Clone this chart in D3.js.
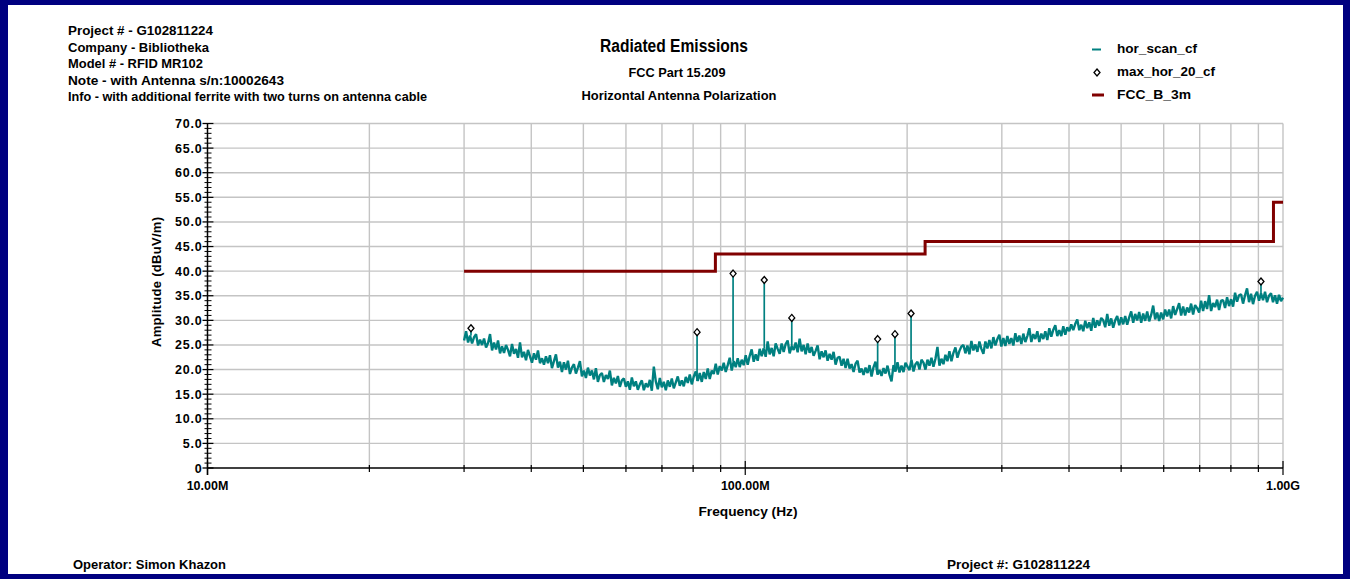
<!DOCTYPE html>
<html>
<head>
<meta charset="utf-8">
<script src="https://cdn.jsdelivr.net/npm/d3@7"></script>
<style>
  body { margin: 0; background: #fff; }
  svg { display: block; }
  text { font-family: "Liberation Sans", Arial, sans-serif; font-weight: bold; fill: #000; }
</style>
</head>
<body>
<svg id="chart" width="1353" height="579"></svg>
<script>
// ---- Report header ----
const headerLines = [
  "Project # - G102811224",
  "Company - Bibliotheka",
  "Model # - RFID MR102",
  "Note - with  Antenna s/n:10002643",
  "Info - with additional ferrite with two turns on antenna cable"
];
const headerWidths = [145, 141, 135, 216, 359];
const titleLines = ["Radiated Emissions", "FCC Part 15.209", "Horizontal Antenna Polarization"];
const footerLeft = "Operator: Simon Khazon";
const footerRight = "Project #: G102811224";

// ---- Legend ----
const legendNames = ["hor_scan_cf", "max_hor_20_cf", "FCC_B_3m"];

// ---- Axes ----
const xDomainMHz = [10, 1000];
const xLabelValuesMHz = [10, 100, 1000];
const xLabels = ["10.00M", "100.00M", "1.00G"];
const yDomain = [0, 70];
const yTickValues = [0, 5, 10, 15, 20, 25, 30, 35, 40, 45, 50, 55, 60, 65, 70];
const yTickLabels = ["0", "5.0", "10.0", "15.0", "20.0", "25.0", "30.0", "35.0", "40.0", "45.0", "50.0", "55.0", "60.0", "65.0", "70.0"];

// ---- Scan trace: sweep 30 MHz .. 1 GHz, log-spaced points (dBuV/m) ----
const scanStartMHz = 30;
const scanStopMHz = 1000;
const scanLevels = [
  25.9, 27.8, 25.5, 26.9, 25.3, 26.6, 27.2, 24.9, 26.1, 25.0,
  26.3, 24.5, 25.4, 27.2, 23.9, 25.5, 24.1, 25.9, 23.3, 24.7,
  23.4, 25.0, 24.0, 22.7, 25.2, 23.2, 24.2, 22.4, 25.5, 22.5,
  23.6, 21.9, 24.0, 22.7, 21.4, 23.3, 22.0, 23.9, 21.3, 22.3,
  21.0, 22.7, 21.3, 22.9, 20.3, 21.7, 23.1, 20.4, 21.6, 19.5,
  21.5, 20.0, 21.8, 19.1, 20.4, 21.1, 19.2, 20.4, 21.7, 18.6,
  19.8, 18.3, 20.4, 18.8, 19.8, 18.0, 20.3, 17.5, 18.9, 19.3,
  17.5, 18.9, 18.1, 19.8, 16.8, 18.3, 17.2, 18.7, 16.5, 17.8,
  18.2, 16.5, 17.6, 15.9, 18.4, 16.6, 17.6, 15.9, 17.0, 17.8,
  15.8, 17.2, 16.4, 17.9, 15.7, 20.6, 17.6, 16.0, 18.3, 16.4,
  17.5, 15.8, 17.8, 16.5, 18.2, 16.2, 17.4, 18.6, 16.7, 17.8,
  16.6, 18.5, 17.3, 19.0, 17.0, 18.6, 19.6, 17.7, 19.3, 17.5,
  19.5, 18.1, 20.2, 18.1, 19.8, 19.1, 21.2, 19.0, 20.7, 19.8,
  21.4, 19.5, 20.9, 22.4, 19.8, 21.7, 20.5, 22.3, 20.5, 22.0,
  20.9, 22.9, 21.0, 22.8, 24.1, 21.6, 23.1, 21.8, 24.2, 22.7,
  24.3, 22.6, 25.7, 23.1, 24.4, 22.7, 25.3, 24.2, 23.2, 25.3,
  23.6, 25.2, 25.9, 23.3, 24.7, 24.0, 25.5, 23.5, 26.3, 23.7,
  25.0, 23.1, 25.3, 23.4, 24.6, 22.8, 23.8, 24.9, 22.1, 23.7,
  22.5, 23.9, 21.8, 23.2, 22.0, 23.6, 21.0, 22.4, 22.6, 20.8,
  22.2, 20.3, 22.2, 20.2, 21.1, 19.5, 21.2, 21.8, 19.4, 20.2,
  18.9, 20.4, 19.3, 20.9, 18.6, 20.5, 21.6, 19.0, 19.9, 18.7,
  20.3, 19.2, 20.8, 18.9, 17.6, 20.9, 19.6, 21.5, 19.4, 20.8,
  19.5, 21.4, 20.6, 19.9, 22.0, 19.6, 21.1, 21.6, 20.0, 22.0,
  21.4, 20.0, 22.0, 20.8, 22.4, 20.6, 22.2, 24.6, 20.8, 22.2,
  21.1, 23.0, 21.7, 23.7, 21.7, 23.4, 24.5, 22.4, 23.8, 24.7,
  25.0, 23.3, 24.9, 23.1, 25.8, 23.9, 25.1, 23.6, 25.7, 24.2,
  23.2, 25.7, 24.3, 26.0, 24.3, 26.6, 24.9, 26.2, 27.1, 24.7,
  26.4, 24.8, 26.8, 25.2, 26.4, 24.9, 27.4, 25.6, 26.9, 25.2,
  27.3, 25.6, 26.8, 28.4, 25.6, 27.2, 26.2, 27.8, 25.6, 27.3,
  26.2, 27.8, 26.0, 28.4, 26.7, 28.1, 29.0, 26.8, 28.0, 26.8,
  28.8, 27.1, 28.6, 27.8, 29.2, 28.0, 29.3, 30.2, 28.0, 29.1,
  27.8, 29.9, 28.4, 29.6, 27.9, 30.5, 28.5, 30.0, 28.9, 30.5,
  30.0, 28.6, 31.3, 28.9, 30.4, 28.5, 30.0, 30.9, 29.0, 30.6,
  29.2, 30.9, 29.1, 30.6, 31.8, 29.5, 31.3, 30.0, 31.7, 29.5,
  31.4, 29.9, 31.8, 29.8, 31.1, 33.0, 30.2, 31.6, 29.9, 31.6,
  30.2, 32.2, 30.8, 32.2, 30.4, 32.9, 31.1, 32.3, 33.5, 31.0,
  32.8, 31.0, 32.6, 31.6, 33.4, 31.2, 33.1, 32.5, 31.6, 34.0,
  31.9, 33.9, 32.3, 35.1, 31.9, 33.5, 32.7, 34.2, 32.1, 34.0,
  34.1, 32.5, 34.7, 32.9, 34.3, 32.8, 35.6, 33.8, 35.1, 35.3,
  33.4, 35.1, 36.5, 33.7, 35.4, 33.3, 35.0, 35.8, 34.0, 35.5,
  34.1, 35.8, 33.7, 35.0, 35.5, 33.7, 35.1, 33.4, 35.2, 33.9,
  34.6
];

// ---- Maximised peaks (max_hor_20_cf) ----
const peakFreqsMHz = [30.9, 81.36, 94.92, 108.48, 122.04, 176.28, 189.84, 203.4, 910.0];
const peakLevels   = [28.4, 27.6, 39.5, 38.2, 30.5, 26.2, 27.2, 31.4, 37.9];

// ---- FCC Part 15 Class B limit at 3 m ----
const limitFreqsMHz = [30, 88, 216, 960, 1000];
const limitLevels   = [40.0, 43.5, 46.0, 54.0, 54.0];

// ---- Drawing ----
const svg = d3.select("#chart");
const teal = "#008080", maroon = "#800000", navy = "#000080", gridGray = "#c4c4c4";

// page frame
svg.append("rect").attr("x", 0).attr("y", 0).attr("width", 1350).attr("height", 579).attr("fill", navy);
svg.append("rect").attr("x", 8).attr("y", 5).attr("width", 1335).attr("height", 569).attr("fill", "#fff");

const plot = { left: 207.5, right: 1283, top: 123.5, bottom: 468 };
const x = d3.scaleLog().domain(xDomainMHz).range([plot.left, plot.right]);
const y = d3.scaleLinear().domain(yDomain).range([plot.bottom, plot.top]);

// grid
const decadeSteps = [];
[10, 100].forEach(d => { for (let m = 1; m <= 9; m++) decadeSteps.push(d * m); });
decadeSteps.push(1000);
const g = svg.append("g");
g.selectAll("line.vg").data(decadeSteps.filter(f => f > 10)).join("line")
  .attr("x1", d => x(d)).attr("x2", d => x(d))
  .attr("y1", plot.top).attr("y2", plot.bottom)
  .attr("stroke", gridGray).attr("stroke-width", 1.4);
g.selectAll("line.hg").data(yTickValues.filter(v => v > 0)).join("line")
  .attr("x1", plot.left + 6).attr("x2", plot.right)
  .attr("y1", d => y(d)).attr("y2", d => y(d))
  .attr("stroke", gridGray).attr("stroke-width", 1.4);

// axes lines
svg.append("line").attr("x1", plot.left).attr("x2", plot.left).attr("y1", plot.top).attr("y2", plot.bottom + 7)
  .attr("stroke", "#000").attr("stroke-width", 1.5);
svg.append("line").attr("x1", plot.left).attr("x2", plot.right).attr("y1", plot.bottom).attr("y2", plot.bottom)
  .attr("stroke", "#000").attr("stroke-width", 1.5);

// x ticks
svg.selectAll("line.xt").data(decadeSteps).join("line")
  .attr("x1", d => x(d)).attr("x2", d => x(d))
  .attr("y1", d => xLabelValuesMHz.includes(d) ? plot.bottom - 7 : plot.bottom - 3)
  .attr("y2", d => xLabelValuesMHz.includes(d) ? plot.bottom + 7 : plot.bottom + 4)
  .attr("stroke", "#000").attr("stroke-width", 1.2);

// y ticks: major every 5, minor every 1
const yMinor = [];
for (let v = 0; v <= 70; v++) if (v % 5 !== 0) yMinor.push(v);
svg.selectAll("line.ymin").data(yMinor).join("line")
  .attr("x1", plot.left - 3).attr("x2", plot.left + 4)
  .attr("y1", d => y(d)).attr("y2", d => y(d))
  .attr("stroke", "#000").attr("stroke-width", 1);
svg.selectAll("line.ymaj").data(yTickValues).join("line")
  .attr("x1", plot.left - 5).attr("x2", plot.left + 6)
  .attr("y1", d => y(d)).attr("y2", d => y(d))
  .attr("stroke", "#000").attr("stroke-width", 1.3);

svg.selectAll("text.yl").data(yTickValues).join("text")
  .attr("x", plot.left - 5).attr("y", d => y(d) + 4.5)
  .attr("text-anchor", "end").attr("font-size", 12.5).attr("letter-spacing", 0.8)
  .text((d, i) => yTickLabels[i]);

svg.selectAll("text.xl").data(xLabelValuesMHz).join("text")
  .attr("x", d => x(d)).attr("y", 490)
  .attr("text-anchor", "middle").attr("font-size", 12.5)
  .text((d, i) => xLabels[i]);

svg.append("text").attr("x", 748).attr("y", 516).attr("text-anchor", "middle")
  .attr("font-size", 13).attr("textLength", 99).attr("lengthAdjust", "spacingAndGlyphs")
  .text("Frequency (Hz)");
svg.append("text").attr("transform", "translate(161,282) rotate(-90)").attr("text-anchor", "middle")
  .attr("font-size", 13).attr("textLength", 130).attr("lengthAdjust", "spacing")
  .text("Amplitude (dBuV/m)");

// limit line
const limitLine = d3.line().x(d => x(d[0])).y(d => y(d[1])).curve(d3.curveStepAfter);
svg.append("path")
  .datum(limitFreqsMHz.map((f, i) => [f, limitLevels[i]]))
  .attr("d", limitLine).attr("fill", "none").attr("stroke", maroon).attr("stroke-width", 3);

// scan trace
const n = scanLevels.length;
const ratio = scanStopMHz / scanStartMHz;
const scanPts = scanLevels.map((v, i) => [scanStartMHz * Math.pow(ratio, i / (n - 1)), v]);
svg.append("path")
  .datum(scanPts)
  .attr("d", d3.line().x(d => x(d[0])).y(d => y(d[1])))
  .attr("fill", "none").attr("stroke", teal).attr("stroke-width", 2.4).attr("stroke-linejoin", "bevel");

// peak stems: from the nearest sweep point up to the maximised reading
const peakPts = peakFreqsMHz.map((f, i) => [f, peakLevels[i]]);
const bis = d3.bisector(d => d[0]).center;
svg.selectAll("line.stem").data(peakPts).join("line")
  .attr("x1", d => x(d[0])).attr("x2", d => x(d[0]))
  .attr("y1", d => y(d[1])).attr("y2", d => y(scanPts[bis(scanPts, d[0])][1]))
  .attr("stroke", teal).attr("stroke-width", 1.7);

// peak markers
const diamond = "M0,-3.5L3,0L0,3.5L-3,0Z";
svg.selectAll("path.pk").data(peakPts).join("path")
  .attr("d", diamond)
  .attr("transform", d => `translate(${x(d[0])},${y(d[1])})`)
  .attr("fill", "#fff").attr("stroke", "#000").attr("stroke-width", 1.3);

// header text
svg.selectAll("text.hd").data(headerLines).join("text")
  .attr("x", 68).attr("y", (d, i) => 35 + i * 16.5)
  .attr("font-size", 13).attr("textLength", (d, i) => headerWidths[i]).attr("lengthAdjust", "spacingAndGlyphs")
  .text(d => d);

// titles
const titleY = [52, 77, 100], titleSize = [18, 13, 13], titleW = [148, 97, 195], titleX = [674, 677, 679];
svg.selectAll("text.tt").data(titleLines).join("text")
  .attr("x", (d, i) => titleX[i]).attr("y", (d, i) => titleY[i]).attr("text-anchor", "middle")
  .attr("font-size", (d, i) => titleSize[i])
  .attr("textLength", (d, i) => titleW[i]).attr("lengthAdjust", "spacingAndGlyphs")
  .text(d => d);

// legend
const legY = [53, 76, 99], legW = [80, 98, 74];
svg.selectAll("text.lg").data(legendNames).join("text")
  .attr("x", 1117).attr("y", (d, i) => legY[i]).attr("font-size", 13)
  .attr("textLength", (d, i) => legW[i]).attr("lengthAdjust", "spacingAndGlyphs")
  .text(d => d);
svg.append("line").attr("x1", 1092).attr("x2", 1101).attr("y1", 49.5).attr("y2", 49.5)
  .attr("stroke", teal).attr("stroke-width", 2);
svg.append("path").attr("d", diamond).attr("transform", "translate(1097,72.5)")
  .attr("fill", "#fff").attr("stroke", "#000").attr("stroke-width", 1.3);
svg.append("line").attr("x1", 1092).attr("x2", 1104).attr("y1", 95).attr("y2", 95)
  .attr("stroke", maroon).attr("stroke-width", 3);

// footer
svg.append("text").attr("x", 73).attr("y", 569).attr("font-size", 13)
  .attr("textLength", 153).attr("lengthAdjust", "spacingAndGlyphs").text(footerLeft);
svg.append("text").attr("x", 947).attr("y", 569).attr("font-size", 13)
  .attr("textLength", 143).attr("lengthAdjust", "spacingAndGlyphs").text(footerRight);
</script>
</body>
</html>
